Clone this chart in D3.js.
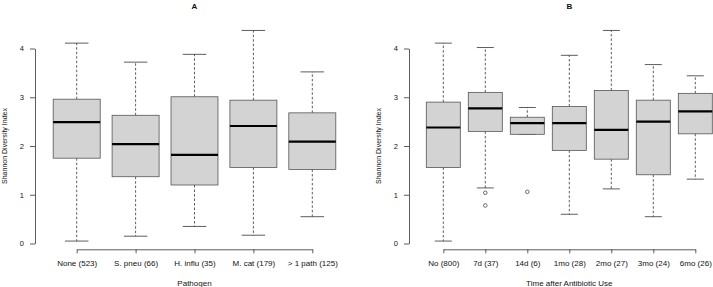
<!DOCTYPE html>
<html>
<head>
<style>
  body { margin: 0; background: #fff; }
  svg text { font-family: "Liberation Sans", Arial, sans-serif; fill: #111; }
</style>
</head>
<body>
<script src="https://d3js.org/d3.v7.min.js"></script>
<script>
// panel A: by pathogen
const pathogens = ["None (523)", "S. pneu (66)", "H. influ (35)", "M. cat (179)", "> 1 path (125)"]
const pathLow = [0.05, 0.15, 0.35, 0.17, 0.55]
const pathQ1 = [1.75, 1.37, 1.20, 1.56, 1.52]
const pathMed = [2.49, 2.04, 1.82, 2.41, 2.09]
const pathQ3 = [2.96, 2.63, 3.01, 2.94, 2.68]
const pathHigh = [4.11, 3.72, 3.88, 4.37, 3.52]
const pathOut = [[], [], [], [], []]

// panel B: time after antibiotic use
const times = ["No (800)", "7d (37)", "14d (6)", "1mo (28)", "2mo (27)", "3mo (24)", "6mo (26)"]
const timeLow = [0.05, 1.14, 2.24, 0.60, 1.12, 0.55, 1.32]
const timeQ1 = [1.56, 2.30, 2.24, 1.91, 1.73, 1.41, 2.25]
const timeMed = [2.38, 2.77, 2.47, 2.47, 2.33, 2.50, 2.71]
const timeQ3 = [2.90, 3.10, 2.59, 2.81, 3.14, 2.94, 3.08]
const timeHigh = [4.11, 4.02, 2.79, 3.86, 4.37, 3.67, 3.44]
const timeOut = [[], [1.04, 0.78], [1.06], [], [], [], []]

const yTicks = [0, 1, 2, 3, 4]

const width = 713
const height = 287

const svg = d3.select("body").append("svg").attr("width", width).attr("height", height)

const y = d3.scaleLinear().domain([0, 4]).range([243.5, 48.5])

const drawPanel = (opt) => {
    const g = svg.append("g")
    const x = d3.scalePoint().domain(opt.cats).range(opt.xRange)
    const boxW = opt.boxW

    const rows = opt.cats.map((c, i) => ({
        cat: c, low: opt.low[i], q1: opt.q1[i], med: opt.med[i],
        q3: opt.q3[i], high: opt.high[i], out: opt.out[i]
    }))

    // title
    g.append("text").attr("x", (opt.xRange[0] + opt.xRange[1]) / 2).attr("y", 8.5)
        .attr("text-anchor", "middle").attr("font-size", 8).attr("font-weight", "bold")
        .text(opt.title)

    // y axis
    const ya = g.append("g").attr("transform", "translate(" + opt.yAxisX + ",0)")
        .call(d3.axisLeft(y).tickValues(yTicks).tickFormat(d3.format("d"))
            .tickSize(5).tickPadding(6).tickSizeOuter(0))
    ya.select(".domain").attr("stroke", "#333").attr("stroke-width", 0.8)
    ya.selectAll(".tick line").attr("stroke", "#333").attr("stroke-width", 0.8)
    ya.selectAll(".tick text").attr("font-size", 7.5).attr("fill", "#111")
        .attr("font-family", "Liberation Sans, Arial, sans-serif")

    g.append("text")
        .attr("transform", "translate(" + opt.yLabelX + "," + y(2) + ") rotate(-90)")
        .attr("text-anchor", "middle").attr("dy", "0.35em").attr("font-size", 7)
        .text("Shannon Diversity Index")

    // x axis
    const xa = g.append("g").attr("transform", "translate(0,249.3)")
        .call(d3.axisBottom(x).tickSize(4).tickPadding(7).tickSizeOuter(0))
    xa.select(".domain").attr("stroke", "#333").attr("stroke-width", 0.8)
    xa.selectAll(".tick line").attr("stroke", "#333").attr("stroke-width", 0.8)
    xa.selectAll(".tick text").attr("font-size", 8).attr("fill", "#111")
        .attr("font-family", "Liberation Sans, Arial, sans-serif")

    g.append("text").attr("x", (opt.xRange[0] + opt.xRange[1]) / 2).attr("y", 285.5)
        .attr("text-anchor", "middle").attr("font-size", 8)
        .text(opt.xLabel)

    const box = g.selectAll(".box").data(rows).enter().append("g").attr("class", "box")

    // whiskers
    box.append("line")
        .attr("x1", d => x(d.cat)).attr("x2", d => x(d.cat))
        .attr("y1", d => y(d.q3)).attr("y2", d => y(d.high))
        .attr("stroke", "#333").attr("stroke-width", 0.8).attr("stroke-dasharray", "2.5,2")
    box.append("line")
        .attr("x1", d => x(d.cat)).attr("x2", d => x(d.cat))
        .attr("y1", d => y(d.q1)).attr("y2", d => y(d.low))
        .attr("stroke", "#333").attr("stroke-width", 0.8).attr("stroke-dasharray", "2.5,2")
    box.append("line")
        .attr("x1", d => x(d.cat) - boxW / 4).attr("x2", d => x(d.cat) + boxW / 4)
        .attr("y1", d => y(d.high)).attr("y2", d => y(d.high))
        .attr("stroke", "#333").attr("stroke-width", 0.8)
    box.append("line")
        .attr("x1", d => x(d.cat) - boxW / 4).attr("x2", d => x(d.cat) + boxW / 4)
        .attr("y1", d => y(d.low)).attr("y2", d => y(d.low))
        .attr("stroke", "#333").attr("stroke-width", 0.8)

    // box
    box.append("rect")
        .attr("x", d => x(d.cat) - boxW / 2).attr("width", boxW)
        .attr("y", d => y(d.q3)).attr("height", d => y(d.q1) - y(d.q3))
        .attr("fill", "#d3d3d3").attr("stroke", "#555").attr("stroke-width", 0.8)

    // median
    box.append("line")
        .attr("x1", d => x(d.cat) - boxW / 2).attr("x2", d => x(d.cat) + boxW / 2)
        .attr("y1", d => y(d.med)).attr("y2", d => y(d.med))
        .attr("stroke", "#000").attr("stroke-width", 2.2)

    // outliers
    box.selectAll("circle").data(d => d.out.map(v => ({ cat: d.cat, v: v }))).enter()
        .append("circle")
        .attr("cx", d => x(d.cat)).attr("cy", d => y(d.v)).attr("r", 1.8)
        .attr("fill", "none").attr("stroke", "#333").attr("stroke-width", 0.7)
}

drawPanel({
    title: "A", cats: pathogens, low: pathLow, q1: pathQ1, med: pathMed, q3: pathQ3,
    high: pathHigh, out: pathOut, xRange: [76.7, 312.3], boxW: 47,
    yAxisX: 35, yLabelX: 5, xLabel: "Pathogen"
})

drawPanel({
    title: "B", cats: times, low: timeLow, q1: timeQ1, med: timeMed, q3: timeQ3,
    high: timeHigh, out: timeOut, xRange: [443.3, 695.3], boxW: 34,
    yAxisX: 409, yLabelX: 379, xLabel: "Time after Antibiotic Use"
})
</script>
</body>
</html>
